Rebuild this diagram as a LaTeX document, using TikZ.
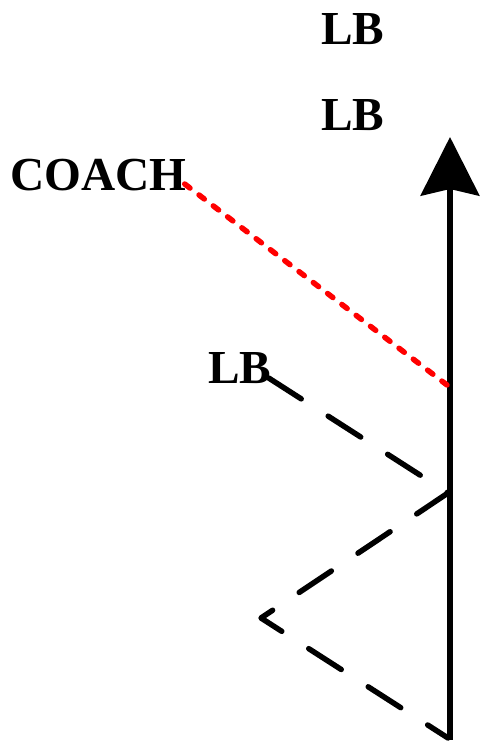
\documentclass[tikz,border=0pt]{standalone}
\usepackage{fontspec}
\setmainfont{Liberation Serif}
\usetikzlibrary{arrows.meta,positioning}

\begin{document}
\begin{tikzpicture}[
  x=0.75pt,y=-0.75pt,
  player/.style={inner sep=0pt,anchor=base west,font=\fontsize{35.5}{40}\selectfont\bfseries},
  run/.style={-{Stealth[length=44pt,width=44pt,inset=5pt]},line width=4.1pt},
  route/.style={line width=4.1pt,line cap=round,line join=round,dash pattern=on 29pt off 24pt},
  coachline/.style={red,line width=4.1pt,line cap=round,dash pattern=on 5pt off 8.5pt}
]
\useasboundingbox (0,0) rectangle (479,742);
\node[player] (lbtop) at (321,45) {LB};
\node[player] (lbmid) at (321,130) {LB};
\node[player] (coach) at (10,190) {COACH};
\node[player] (lblow) at (208,383) {LB};
% ball carrier
\coordinate (start) at (450,740);
\coordinate (goal) at (450,137);
\draw[run] (start) -- (goal);
% coach
\coordinate (meet) at (447,385);
\draw[coachline] (coach.base east) ++(-2,-6) -- (meet);
% linebacker route
\coordinate (r1) at (448,493);
\coordinate (r2) at (261,618);
\coordinate (r3) at (448,738);
\draw[route] (lblow.base east) ++(-3,-5) -- (r1) -- (r2) -- (r3);
\end{tikzpicture}
\end{document}
